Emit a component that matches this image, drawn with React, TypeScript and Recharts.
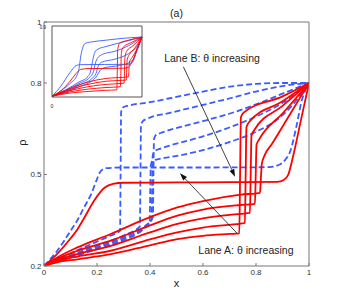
import React from 'react';
import { LineChart, Line, XAxis, YAxis, ReferenceLine, ReferenceDot, Label } from 'recharts';

type Pt = [number, number];

const FONT = '"Liberation Sans", Arial, Helvetica, sans-serif';
const RED = '#ff0000';
const BLUE = '#3a5cff';

const xTicks = [0, 0.2, 0.4, 0.6, 0.8, 1];
const yTicks = [0.2, 0.5, 0.8, 1];
const insetXTicks = [0];
const insetYTicks = [0.9];

// Lane A (red, solid) — theta increasing from A6 to A1
const laneA1: Pt[] = [[0, 0.2], [0.05, 0.24], [0.1, 0.29], [0.126, 0.32], [0.15, 0.355], [0.189, 0.414], [0.226, 0.455], [0.26, 0.469], [0.3, 0.473], [0.5, 0.474], [0.7, 0.475], [0.88, 0.476], [0.905, 0.482], [0.922, 0.5], [0.94, 0.56], [0.97, 0.68], [1, 0.8]];
const laneA2: Pt[] = [[0, 0.2], [0.05, 0.228], [0.126, 0.261], [0.252, 0.305], [0.4, 0.36], [0.503, 0.392], [0.6, 0.413], [0.742, 0.434], [0.815, 0.44], [0.818, 0.48], [0.822, 0.535], [0.832, 0.562], [0.86, 0.6], [0.93, 0.7], [1, 0.8]];
const laneA3: Pt[] = [[0, 0.2], [0.05, 0.224], [0.126, 0.25], [0.252, 0.283], [0.4, 0.333], [0.503, 0.365], [0.6, 0.385], [0.742, 0.4], [0.796, 0.404], [0.799, 0.5], [0.802, 0.598], [0.812, 0.615], [0.9, 0.7], [1, 0.8]];
const laneA4: Pt[] = [[0, 0.2], [0.05, 0.22], [0.126, 0.239], [0.252, 0.266], [0.4, 0.31], [0.503, 0.338], [0.6, 0.356], [0.742, 0.371], [0.777, 0.374], [0.78, 0.5], [0.783, 0.628], [0.793, 0.645], [0.9, 0.725], [1, 0.8]];
const laneA5: Pt[] = [[0, 0.2], [0.05, 0.216], [0.126, 0.231], [0.252, 0.25], [0.4, 0.287], [0.503, 0.31], [0.6, 0.326], [0.742, 0.339], [0.758, 0.341], [0.761, 0.5], [0.764, 0.655], [0.774, 0.672], [0.9, 0.74], [1, 0.8]];
const laneA6: Pt[] = [[0, 0.2], [0.05, 0.212], [0.126, 0.222], [0.252, 0.239], [0.4, 0.268], [0.503, 0.288], [0.6, 0.299], [0.7, 0.305], [0.737, 0.307], [0.74, 0.5], [0.743, 0.688], [0.753, 0.703], [0.9, 0.756], [1, 0.8]];

// Lane B (blue, dashed) — theta increasing from B2 to B1
const laneB1: Pt[] = [[0, 0.2], [0.05, 0.25], [0.1, 0.315], [0.126, 0.35], [0.15, 0.39], [0.18, 0.44], [0.2, 0.485], [0.215, 0.512], [0.235, 0.521], [0.3, 0.523], [0.6, 0.523], [0.85, 0.524], [0.885, 0.531], [0.91, 0.548], [0.93, 0.578], [0.953, 0.66], [0.972, 0.74], [1, 0.8]];
const laneB2: Pt[] = [[0, 0.2], [0.05, 0.22], [0.1, 0.241], [0.15, 0.261], [0.2, 0.28], [0.25, 0.299], [0.287, 0.316], [0.289, 0.5], [0.291, 0.705], [0.298, 0.72], [0.32, 0.726], [0.4, 0.737], [0.475, 0.75], [0.6, 0.772], [0.702, 0.788], [0.8, 0.797], [0.9, 0.8], [1, 0.8]];
const laneB3: Pt[] = [[0, 0.2], [0.1, 0.235], [0.2, 0.267], [0.3, 0.3], [0.362, 0.33], [0.364, 0.5], [0.366, 0.66], [0.373, 0.675], [0.39, 0.683], [0.475, 0.702], [0.6, 0.728], [0.702, 0.75], [0.8, 0.772], [0.9, 0.79], [1, 0.8]];
const laneB4: Pt[] = [[0, 0.2], [0.1, 0.232], [0.2, 0.262], [0.3, 0.295], [0.38, 0.33], [0.411, 0.36], [0.413, 0.5], [0.415, 0.615], [0.421, 0.628], [0.44, 0.636], [0.475, 0.646], [0.6, 0.675], [0.702, 0.7], [0.8, 0.73], [0.9, 0.765], [1, 0.8]];
const laneB5: Pt[] = [[0, 0.2], [0.1, 0.23], [0.2, 0.258], [0.3, 0.29], [0.38, 0.325], [0.406, 0.352], [0.408, 0.45], [0.41, 0.56], [0.416, 0.575], [0.44, 0.585], [0.475, 0.595], [0.6, 0.625], [0.702, 0.655], [0.8, 0.69], [0.9, 0.735], [1, 0.8]];
const laneB6: Pt[] = [[0, 0.2], [0.1, 0.228], [0.2, 0.255], [0.3, 0.285], [0.37, 0.318], [0.399, 0.345], [0.401, 0.45], [0.403, 0.53], [0.41, 0.545], [0.44, 0.552], [0.475, 0.557], [0.6, 0.58], [0.702, 0.607], [0.8, 0.64], [0.88, 0.68], [0.94, 0.73], [1, 0.8]];

// Inset curves
const insetA1: Pt[] = [[0, 0.01], [0.1, 0.08], [0.2, 0.2], [0.27, 0.3], [0.32, 0.35], [0.4, 0.36], [0.8, 0.365], [0.85, 0.38], [0.9, 0.47], [0.95, 0.62], [1, 0.76]];
const insetA2: Pt[] = [[0, 0.01], [0.2, 0.11], [0.4, 0.19], [0.6, 0.235], [0.85, 0.255], [0.855, 0.35], [0.86, 0.44], [0.89, 0.5], [0.94, 0.6], [1, 0.76]];
const insetA3: Pt[] = [[0, 0.01], [0.2, 0.095], [0.4, 0.16], [0.6, 0.2], [0.825, 0.215], [0.83, 0.35], [0.835, 0.47], [0.86, 0.54], [0.92, 0.62], [1, 0.76]];
const insetA4: Pt[] = [[0, 0.01], [0.2, 0.08], [0.4, 0.13], [0.6, 0.16], [0.8, 0.175], [0.805, 0.3], [0.81, 0.5], [0.83, 0.58], [0.9, 0.65], [1, 0.76]];
const insetA5: Pt[] = [[0, 0.01], [0.2, 0.065], [0.4, 0.1], [0.6, 0.12], [0.76, 0.13], [0.765, 0.3], [0.77, 0.55], [0.79, 0.63], [0.88, 0.69], [1, 0.76]];
const insetA6: Pt[] = [[0, 0.01], [0.2, 0.05], [0.4, 0.07], [0.6, 0.085], [0.72, 0.09], [0.725, 0.3], [0.73, 0.6], [0.75, 0.68], [0.85, 0.72], [1, 0.76]];
const insetB1: Pt[] = [[0, 0.01], [0.1, 0.14], [0.2, 0.31], [0.27, 0.4], [0.32, 0.41], [0.85, 0.415], [0.9, 0.45], [0.95, 0.63], [1, 0.76]];
const insetB2: Pt[] = [[0, 0.01], [0.1, 0.08], [0.2, 0.17], [0.28, 0.28], [0.3, 0.36], [0.32, 0.52], [0.34, 0.62], [0.37, 0.68], [0.45, 0.7], [0.6, 0.72], [0.8, 0.745], [1, 0.76]];
const insetB3: Pt[] = [[0, 0.01], [0.15, 0.09], [0.3, 0.19], [0.4, 0.26], [0.43, 0.33], [0.45, 0.45], [0.47, 0.55], [0.5, 0.6], [0.6, 0.64], [0.8, 0.7], [1, 0.76]];
const insetB4: Pt[] = [[0, 0.01], [0.15, 0.08], [0.3, 0.17], [0.42, 0.25], [0.46, 0.32], [0.48, 0.42], [0.51, 0.5], [0.56, 0.54], [0.7, 0.58], [0.85, 0.65], [1, 0.76]];
const insetB5: Pt[] = [[0, 0.01], [0.15, 0.07], [0.3, 0.15], [0.45, 0.24], [0.49, 0.3], [0.51, 0.38], [0.55, 0.44], [0.7, 0.48], [0.85, 0.55], [0.95, 0.65], [1, 0.76]];
const insetB6: Pt[] = [[0, 0.01], [0.15, 0.06], [0.3, 0.13], [0.45, 0.21], [0.5, 0.27], [0.53, 0.33], [0.58, 0.37], [0.75, 0.4], [0.88, 0.45], [0.95, 0.6], [1, 0.76]];

const laneA = [laneA1, laneA2, laneA3, laneA4, laneA5, laneA6];
const laneB = [laneB1, laneB2, laneB3, laneB4, laneB5, laneB6];
const insetA = [insetA1, insetA2, insetA3, insetA4, insetA5, insetA6];
const insetB = [insetB1, insetB2, insetB3, insetB4, insetB5, insetB6];

// Annotations (data coordinates)
const arrowB: Pt[] = [[0.526, 0.853], [0.721, 0.493]];
const arrowA: Pt[] = [[0.729, 0.307], [0.513, 0.504]];
const textB = { x: 0.634, y: 0.882, text: 'Lane B: θ increasing' };
const textA = { x: 0.762, y: 0.252, text: 'Lane A: θ increasing' };

const toData = (pts: Pt[]) => pts.map(([x, y]) => ({ x, y }));

const Arrow = (p: any) => {
  const { x1, y1, x2, y2 } = p;
  const ang = Math.atan2(y2 - y1, x2 - x1);
  const L = 7.5;
  const W = 2.6;
  const bx = x2 - L * Math.cos(ang);
  const by = y2 - L * Math.sin(ang);
  const nx = -Math.sin(ang) * W;
  const ny = Math.cos(ang) * W;
  return (
    <g>
      <line x1={x1} y1={y1} x2={bx} y2={by} stroke="#111" strokeWidth={0.8} />
      <polygon points={`${x2},${y2} ${bx + nx},${by + ny} ${bx - nx},${by - ny}`} fill="#111" />
    </g>
  );
};

const makeText = (t: string) => (p: any) => (
  <text x={p.cx} y={p.cy} textAnchor="middle" dominantBaseline="central" fontSize={10.5} fill="#222" fontFamily={FONT}>
    {t}
  </text>
);

const Title = (p: any) => {
  const vb = p.viewBox || { x: 44, y: 0, width: 265, height: 22 };
  return (
    <text x={vb.x + vb.width / 2} y={vb.y + vb.height - 5} textAnchor="middle" fontSize={10.5} fill="#222" fontFamily={FONT}>
      (a)
    </text>
  );
};

const XLab = (p: any) => {
  const vb = p.viewBox || { x: 44, y: 266, width: 265, height: 34 };
  return (
    <text x={vb.x + vb.width / 2} y={vb.y + 20.5} textAnchor="middle" fontSize={11} fill="#222" fontFamily={FONT}>
      x
    </text>
  );
};

const YLab = (p: any) => {
  const vb = p.viewBox || { x: 0, y: 22, width: 44, height: 244 };
  const cx = vb.x + 21.5;
  const cy = vb.y + vb.height / 2 - 1.5;
  return (
    <text x={cx} y={cy} transform={`rotate(-90 ${cx} ${cy})`} textAnchor="middle" dominantBaseline="central" fontSize={11} fill="#222" fontFamily={FONT}>
      ρ
    </text>
  );
};

export default function App() {
  return (
    <div style={{ position: 'absolute', left: 0, top: 0, width: 341, height: 300, background: '#fff', fontFamily: FONT }}>
      <LineChart width={341} height={300} margin={{ top: 0, right: 0, bottom: 0, left: 0 }}>
        <XAxis xAxisId="b" dataKey="x" type="number" domain={[0, 1]} ticks={xTicks} interval={0} allowDataOverflow height={34} tickSize={-3} tickMargin={6} stroke="#777" tick={{ fontSize: 8, fill: '#333', fontFamily: FONT }}>
          <Label content={XLab} />
        </XAxis>
        <XAxis xAxisId="t" orientation="top" dataKey="x" type="number" domain={[0, 1]} ticks={xTicks} interval={0} allowDataOverflow height={22} tickSize={-3} tick={false} stroke="#777">
          <Label content={Title} />
        </XAxis>
        <YAxis yAxisId="l" type="number" domain={[0.2, 1]} ticks={yTicks} interval={0} allowDataOverflow width={44} tickSize={-3} tickMargin={5.5} stroke="#777" tick={{ fontSize: 8, fill: '#333', fontFamily: FONT }}>
          <Label content={YLab} />
        </YAxis>
        <YAxis yAxisId="r" orientation="right" type="number" domain={[0.2, 1]} ticks={yTicks} interval={0} allowDataOverflow width={32} tickSize={-3} tick={false} stroke="#777" />
        {laneB.map((s, i) => (
          <Line key={'b' + i} xAxisId="b" yAxisId="l" data={toData(s)} dataKey="y" type="monotone" stroke={BLUE} strokeWidth={1.8} strokeDasharray="6 3" dot={false} activeDot={false} isAnimationActive={false} />
        ))}
        {laneA.map((s, i) => (
          <Line key={'a' + i} xAxisId="b" yAxisId="l" data={toData(s)} dataKey="y" type="monotone" stroke={RED} strokeWidth={1.8} dot={false} activeDot={false} isAnimationActive={false} />
        ))}
        <ReferenceLine xAxisId="b" yAxisId="l" segment={[{ x: arrowB[0][0], y: arrowB[0][1] }, { x: arrowB[1][0], y: arrowB[1][1] }]} shape={Arrow} stroke="#111" />
        <ReferenceLine xAxisId="b" yAxisId="l" segment={[{ x: arrowA[0][0], y: arrowA[0][1] }, { x: arrowA[1][0], y: arrowA[1][1] }]} shape={Arrow} stroke="#111" />
        <ReferenceDot xAxisId="b" yAxisId="l" x={textB.x} y={textB.y} r={0} shape={makeText(textB.text)} />
        <ReferenceDot xAxisId="b" yAxisId="l" x={textA.x} y={textA.y} r={0} shape={makeText(textA.text)} />
      </LineChart>
      <div style={{ position: 'absolute', left: 32, top: 18 }}>
        <LineChart width={112} height={92} margin={{ top: 0, right: 0, bottom: 0, left: 0 }}>
          <XAxis xAxisId="b" dataKey="x" type="number" domain={[0, 1]} ticks={insetXTicks} interval={0} height={13} tickLine={false} tickMargin={1} stroke="#555" tick={{ fontSize: 5, fill: '#222', fontFamily: FONT }} />
          <XAxis xAxisId="t" orientation="top" dataKey="x" type="number" domain={[0, 1]} height={8} tick={false} tickLine={false} stroke="#555" />
          <YAxis yAxisId="l" type="number" domain={[0, 0.9]} ticks={insetYTicks} interval={0} width={20} tickLine={false} tickMargin={0} stroke="#555" tick={{ fontSize: 4.5, fill: '#222', fontFamily: FONT, dy: 1.5 }} />
          <YAxis yAxisId="r" orientation="right" type="number" domain={[0, 0.9]} width={2} tick={false} tickLine={false} stroke="#555" />
          {insetB.map((s, i) => (
            <Line key={'ib' + i} xAxisId="b" yAxisId="l" data={toData(s)} dataKey="y" type="monotone" stroke={BLUE} strokeWidth={0.9} dot={false} activeDot={false} isAnimationActive={false} />
          ))}
          {insetA.map((s, i) => (
            <Line key={'ia' + i} xAxisId="b" yAxisId="l" data={toData(s)} dataKey="y" type="monotone" stroke={RED} strokeWidth={0.9} dot={false} activeDot={false} isAnimationActive={false} />
          ))}
        </LineChart>
      </div>
    </div>
  );
}
